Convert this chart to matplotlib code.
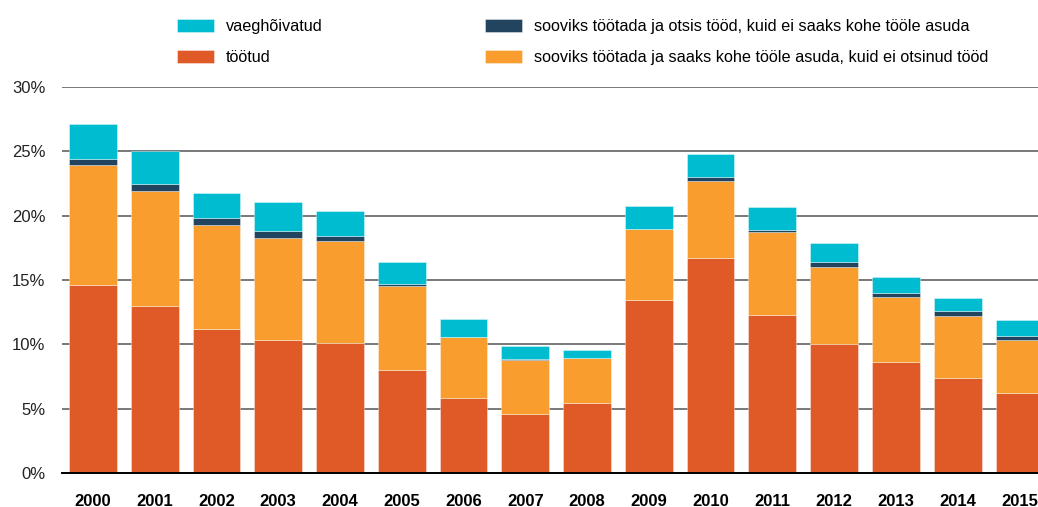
import matplotlib.pyplot as plt
import numpy as np

plt.rcParams['font.family'] = ['Liberation Sans', 'DejaVu Sans']

years = [str(y) for y in range(2000, 2016)]

# shares of labour force, %
tootud = [14.6, 13.0, 11.2, 10.3, 10.1, 8.0, 5.85, 4.6, 5.45, 13.45, 16.7, 12.3, 10.0, 8.6, 7.4, 6.2]
saaks_ei_otsinud = [9.3, 8.9, 8.1, 8.0, 7.9, 6.5, 4.7, 4.2, 3.45, 5.5, 6.0, 6.4, 6.0, 5.1, 4.8, 4.1]
otsis_ei_saaks = [0.5, 0.55, 0.55, 0.5, 0.4, 0.2, 0.05, 0.05, 0.05, 0.05, 0.3, 0.2, 0.4, 0.3, 0.4, 0.35]
vaeghoivatud = [2.7, 2.55, 1.95, 2.3, 2.0, 1.7, 1.4, 1.0, 0.6, 1.75, 1.8, 1.8, 1.5, 1.2, 1.0, 1.25]

labels = ['töötud',
          'sooviks töötada ja saaks kohe tööle asuda, kuid ei otsinud tööd',
          'sooviks töötada ja otsis tööd, kuid ei saaks kohe tööle asuda',
          'vaeghõivatud']
colors = ['#DF5A27', '#F89D2E', '#22445F', '#00BCD0']
series = [tootud, saaks_ei_otsinud, otsis_ei_saaks, vaeghoivatud]

fig = plt.figure(figsize=(10.38, 5.07), dpi=100)
ax = fig.add_axes([0.0597, 0.0671, 0.9403, 0.7613])

x = np.arange(len(years))
bottom = np.zeros(len(years))
bars = []
for vals, col, lab in zip(series, colors, labels):
    b = ax.bar(x, vals, 0.773, bottom=bottom, color=col, label=lab,
               edgecolor=(1, 1, 1, 0.45), linewidth=0.6, zorder=3)
    bars.append(b)
    bottom += np.array(vals)

ax.set_xlim(-0.5, 15.3)
ax.set_ylim(0, 30)
ax.set_yticks(range(0, 31, 5))
ax.set_yticklabels([f'{v}%' for v in range(0, 31, 5)], fontsize=12, color='#222222')
ax.set_xticks(x)
ax.set_xticklabels(years, fontsize=12, fontweight='bold')
ax.tick_params(axis='y', length=0, pad=12)
ax.tick_params(axis='x', length=0, pad=15)
ax.grid(axis='y', color='#555555', linewidth=1.1, zorder=0)
for s in ['top', 'right', 'left']:
    ax.spines[s].set_visible(False)
ax.spines['bottom'].set_color('black')
ax.spines['bottom'].set_linewidth(1.4)
ax.spines['bottom'].set_zorder(4)

handles = [bars[3], bars[0], bars[2], bars[1]]
leg_labels = [labels[3], labels[0], labels[2], labels[1]]
fig.legend(handles, leg_labels, ncol=2, loc='upper left',
           bbox_to_anchor=(0.1565, 0.992), frameon=False, fontsize=11.7,
           handlelength=2.28, handleheight=0.86, handletextpad=0.74,
           columnspacing=10.0, labelspacing=1.0)

fig.savefig('out.png', dpi=100)
